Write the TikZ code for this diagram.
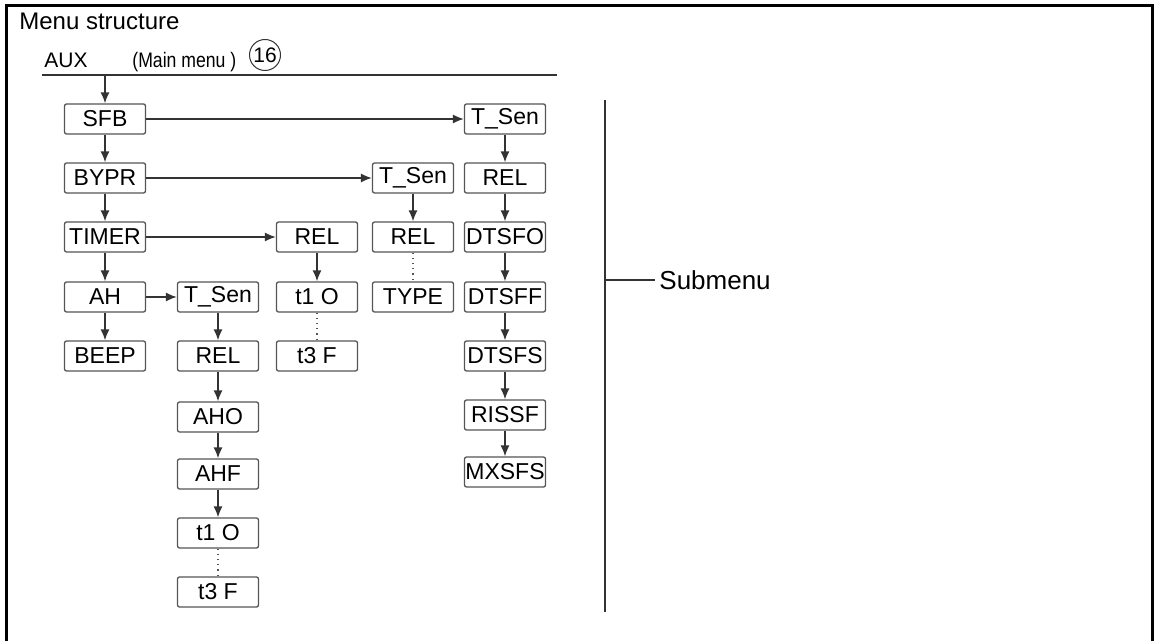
\documentclass[tikz,border=0pt]{standalone}
\usepackage{fontspec}
\setmainfont{Liberation Sans}
\usepackage{xcolor}
\usepackage{graphicx}
\usetikzlibrary{positioning, arrows.meta}

\definecolor{linegray}{HTML}{333333}
\definecolor{boxgray}{HTML}{555555}

\tikzset{
  menubox/.style={draw=boxgray, rectangle, rounded corners=1pt, line width=0.65pt,
    minimum width=40.5pt, minimum height=15pt, inner sep=0pt,
    font=\fontsize{11.5}{13}\selectfont},
  arr/.style={draw=linegray, line width=0.7pt, -{Latex[length=5.5pt, width=4.5pt]}},
  dots/.style={draw=boxgray, line width=0.6pt, dotted}
}

\begin{document}
\begin{tikzpicture}[x=0.5pt, y=-0.5pt]
        \useasboundingbox (0,0) rectangle (1155,641);
        \draw[line width=1.5pt] (6,645) -- (6,6) -- (1152,6) -- (1152,645);

        \node[anchor=base west, inner sep=0pt, font=\fontsize{12}{14}\selectfont] (title) at (19,30) {Menu structure};
        \node[anchor=base west, inner sep=0pt, font=\fontsize{10.5}{12}\selectfont] (aux) at (44,68) {AUX};
        \node[anchor=base west, inner sep=0pt] (mainmenu) at (132,68)
          {\scalebox{0.84}[1]{\fontsize{10.5}{12}\selectfont (Main menu )}};
        \node[draw=linegray, circle, line width=0.5pt, minimum size=15.5pt, inner sep=0pt,
          font=\fontsize{10.5}{12}\selectfont] (num) at (265,55) {16};

        \coordinate (mstart) at (42,75);
        \coordinate (mend) at (557,75);
        \draw[linegray, line width=0.9pt] (mstart) -- (mend);

        % main menu column
        \node[menubox] (sfb) at (105,119) {SFB};
        \node[menubox] (bypr) at (105,178) {BYPR};
        \node[menubox] (timer) at (105,237) {TIMER};
        \node[menubox] (ah) at (105,297) {AH};
        \node[menubox] (beep) at (105,356) {BEEP};

        % AH submenu
        \node[menubox] (ahsen) at (218,297) {T\_Sen};
        \node[menubox] (ahrel) at (218,356) {REL};
        \node[menubox] (aho) at (218,417) {AHO};
        \node[menubox] (ahf) at (218,474) {AHF};
        \node[menubox] (ahtone) at (218,533) {t1 O};
        \node[menubox] (ahtthree) at (218,592) {t3 F};

        % TIMER submenu
        \node[menubox] (tmrel) at (317,237) {REL};
        \node[menubox] (tmtone) at (317,297) {t1 O};
        \node[menubox] (tmtthree) at (317,356) {t3 F};

        % BYPR submenu
        \node[menubox] (bysen) at (413,178) {T\_Sen};
        \node[menubox] (byrel) at (413,237) {REL};
        \node[menubox] (bytype) at (413,297) {TYPE};

        % SFB submenu
        \node[menubox] (sfsen) at (505,119) {T\_Sen};
        \node[menubox] (sfrel) at (505,178) {REL};
        \node[menubox] (dtsfo) at (505,237) {DTSFO};
        \node[menubox] (dtsff) at (505,297) {DTSFF};
        \node[menubox] (dtsfs) at (505,356) {DTSFS};
        \node[menubox] (rissf) at (505,415) {RISSF};
        \node[menubox] (mxsfs) at (505,472) {MXSFS};

        \draw[arr] (sfb.north |- mstart) -- (sfb);
        \draw[arr] (sfb) -- (bypr);
        \draw[arr] (bypr) -- (timer);
        \draw[arr] (timer) -- (ah);
        \draw[arr] (ah) -- (beep);

        \draw[arr] (sfb) -- (sfsen);
        \draw[arr] (bypr) -- (bysen);
        \draw[arr] (timer) -- (tmrel);
        \draw[arr] (ah) -- (ahsen);

        \draw[arr] (ahsen) -- (ahrel);
        \draw[arr] (ahrel) -- (aho);
        \draw[arr] (aho) -- (ahf);
        \draw[arr] (ahf) -- (ahtone);
        \draw[dots] (ahtone) -- (ahtthree);

        \draw[arr] (tmrel) -- (tmtone);
        \draw[dots] (tmtone) -- (tmtthree);

        \draw[arr] (bysen) -- (byrel);
        \draw[dots] (byrel) -- (bytype);

        \draw[arr] (sfsen) -- (sfrel);
        \draw[arr] (sfrel) -- (dtsfo);
        \draw[arr] (dtsfo) -- (dtsff);
        \draw[arr] (dtsff) -- (dtsfs);
        \draw[arr] (dtsfs) -- (rissf);
        \draw[arr] (rissf) -- (mxsfs);

        % submenu bracket
        \coordinate (btop) at (605,100);
        \coordinate (bbot) at (605,612);
        \coordinate (bmid) at (605,280);
        \draw[linegray, line width=0.9pt] (btop) -- (bbot);
        \node[anchor=west, inner sep=0pt, font=\fontsize{13}{15}\selectfont] (sub) at (659,280) {Submenu};
        \draw[linegray, line width=0.6pt] (bmid) -- ([xshift=-2pt]sub.west);
      \end{tikzpicture}
\end{document}
